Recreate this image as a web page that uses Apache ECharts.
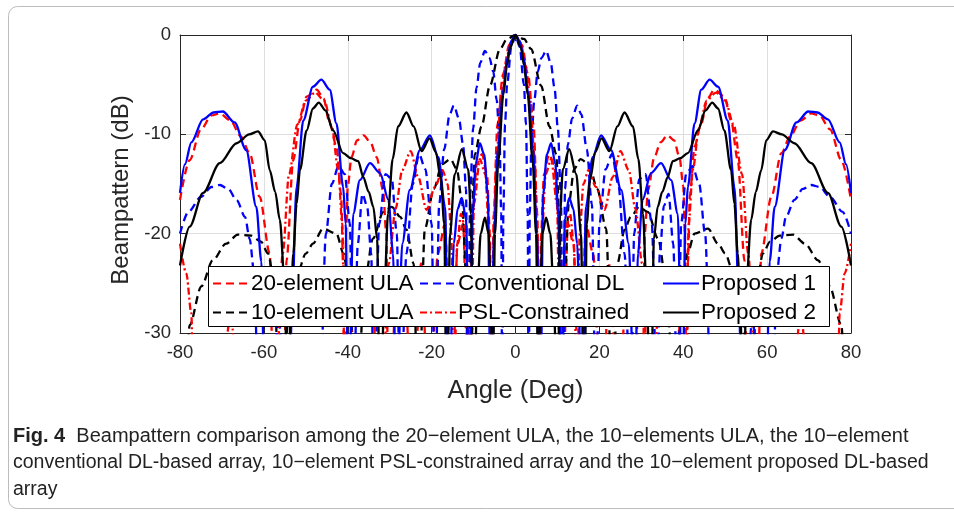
<!DOCTYPE html>
<html>
<head>
<meta charset="utf-8">
<script src="https://cdn.jsdelivr.net/npm/echarts@6/dist/echarts.min.js"></script>
<style>
html, body { margin: 0; padding: 0; background: #fff; }
#chart { width: 954px; height: 514px; }
</style>
</head>
<body>
<div id="chart"></div>
<script>
// 读图得到的数据: [角度(deg), 方向图(dB)]，-40 表示落到图外的零陷
const ula20 = [
    [-80,-16.6],[-77.7,-12.6],[-75,-9.5],[-72.5,-8.1],[-70.5,-7.9],[-68,-8.6],[-65.5,-10.2],[-63.4,-11.9],[-61,-16.3],[-58.6,-22],[-57.6,-40],
    [-55.3,-40],[-54.6,-22.7],[-53,-12.6],[-51.4,-8.6],[-49.8,-6.2],[-47.4,-5.5],[-45.8,-6.4],[-44.3,-8.9],[-42.7,-11.2],[-41.6,-16],[-41.1,-23],[-40.8,-40],
    [-40.4,-20],[-40,-15.2],[-39.1,-12.3],[-37.8,-10.6],[-36.2,-10.1],[-34.6,-10.8],[-33.1,-12.3],[-31.6,-15.6],[-30.8,-20],[-30.3,-40],
    [-28.5,-27],[-26.5,-24.5],[-24.5,-40],[-22.5,-23],[-20.5,-40],[-18.5,-22],[-16.8,-19],[-15.3,-40],[-13.8,-21],[-12.5,-19],[-11.2,-40],
    [-10.2,-18],[-9.2,-13],[-8,-12],[-6.8,-14],[-6.1,-20],[-5.7,-40],[-5.2,-18],[-4.3,-9],[-3,-4],[-1.5,-1],[0,0],
    [1.5,-1],[3,-4],[4.3,-9],[5.2,-18],[5.7,-40],[6.1,-20],[6.8,-14],[8,-12],[9.2,-13],[10.2,-18],
    [11.2,-40],[12.5,-19],[13.8,-21],[15.3,-40],[16.8,-19],[18.5,-22],[20.5,-40],[22.5,-23],[24.5,-40],[26.5,-24.5],[28.5,-27],
    [30.3,-40],[30.8,-20],[31.6,-15.6],[33.1,-12.3],[34.6,-10.8],[36.2,-10.1],[37.8,-10.6],[39.1,-12.3],[40,-15.2],[40.4,-20],
    [40.8,-40],[41.1,-23],[41.6,-16],[42.7,-11.2],[44.3,-8.9],[45.8,-6.4],[47.4,-5.5],[49.8,-6.2],[51.4,-8.6],[53,-12.6],[54.6,-22.7],[55.3,-40],
    [57.6,-40],[58.6,-22],[61,-16.3],[63.4,-11.9],[65.5,-10.2],[68,-8.6],[70.5,-7.9],[72.5,-8.1],[75,-9.5],[77.7,-12.6],[80,-16.6]
];

const ula10 = [
    [-80,-40],[-78.4,-33],[-77.7,-29.2],[-74.9,-25.3],[-72.2,-22.7],[-69,-21],[-66.2,-20.1],[-63,-20.2],[-60.7,-20.8],[-59,-22],[-57.5,-25],[-56.2,-40],
    [-54,-28],[-52,-24],[-50,-22],[-48.3,-21],[-45.9,-19.5],[-42.7,-20],[-41,-22],[-39.5,-26],[-38,-40],
    [-36,-25],[-34,-20.5],[-31.5,-17.8],[-29.5,-17.3],[-27.5,-18.3],[-26,-19.6],[-24.3,-23],[-23.2,-40],
    [-21.6,-19.5],[-19.5,-15.5],[-17.5,-13],[-15.5,-12.5],[-14,-13.5],[-12.7,-17],[-11.8,-24],[-11.2,-40],
    [-10.5,-19],[-9.7,-12],[-8.1,-9.2],[-6.1,-5.1],[-3.7,-1.4],[-2,-0.4],[0,0],
    [2,-0.4],[3.7,-1.4],[6.1,-5.1],[8.1,-9.2],[9.7,-12],[10.5,-19],
    [11.2,-40],[11.8,-24],[12.7,-17],[14,-13.5],[15.5,-12.5],[17.5,-13],[19.5,-15.5],[21.6,-19.5],
    [23.2,-40],[24.3,-23],[26,-19.6],[27.5,-18.3],[29.5,-17.3],[31.5,-17.8],[34,-20.5],[36,-25],
    [38,-40],[39.5,-26],[41,-22],[42.7,-20],[45.9,-19.5],[48.3,-21],[50,-22],[52,-24],[54,-28],
    [56.2,-40],[57.5,-25],[59,-22],[60.7,-20.8],[63,-20.2],[66.2,-20.1],[69,-21],[72.2,-22.7],[74.9,-25.3],[77.7,-29.2],[78.4,-33],[80,-40]
];

const conventionalDL = [
    [-80,-20],[-78,-17.8],[-75,-16.3],[-72.5,-15.3],[-70.5,-15.1],[-68.5,-15.5],[-66.5,-16.6],[-64.5,-18.3],[-63.4,-20.5],[-62.3,-24],[-61.2,-40],
    [-58.5,-40],[-56.5,-28.5],[-54.5,-40],[-46.8,-40],
    [-45.2,-20],[-43.8,-15],[-42.2,-13.2],[-40.7,-14],[-39.5,-19],[-38.7,-40],
    [-37.6,-21],[-36.5,-16],[-35.4,-17.2],[-34.4,-22],[-33.8,-40],
    [-32.5,-19],[-31,-14],[-29.5,-14.5],[-28.3,-20],[-27.5,-40],
    [-26,-22],[-24.5,-15],[-23,-12],[-21.5,-13.5],[-20,-19],[-19.2,-40],
    [-18.2,-17],[-17,-11.5],[-15.7,-8],[-14.7,-7.1],[-13.5,-8.4],[-12.5,-11],[-11.8,-15.5],[-11.4,-40],
    [-10.8,-16],[-10.1,-9.4],[-9.3,-5.3],[-8.4,-2.8],[-7.3,-1.6],[-6.2,-2.3],[-5.3,-3.7],[-4.5,-6.5],[-3.8,-10.5],[-3.4,-18],[-3.15,-40],
    [-2.9,-18],[-2.5,-9],[-2,-5],[-1,-1.2],[0,0],
    [1,-1.2],[2,-5],[2.5,-9],[2.9,-18],
    [3.15,-40],[3.4,-18],[3.8,-10.5],[4.5,-6.5],[5.3,-3.7],[6.2,-2.3],[7.3,-1.6],[8.4,-2.8],[9.3,-5.3],[10.1,-9.4],[10.8,-16],
    [11.4,-40],[11.8,-15.5],[12.5,-11],[13.5,-8.4],[14.7,-7.1],[15.7,-8],[17,-11.5],[18.2,-17],
    [19.2,-40],[20,-19],[21.5,-13.5],[23,-12],[24.5,-15],[26,-22],
    [27.5,-40],[28.3,-20],[29.5,-14.5],[31,-14],[32.5,-19],
    [33.8,-40],[34.4,-22],[35.4,-17.2],[36.5,-16],[37.6,-21],
    [38.7,-40],[39.5,-19],[40.7,-14],[42.2,-13.2],[43.8,-15],[45.2,-20],
    [46.8,-40],[54.5,-40],[56.5,-28.5],[58.5,-40],
    [61.2,-40],[62.3,-24],[63.4,-20.5],[64.5,-18.3],[66.5,-16.6],[68.5,-15.5],[70.5,-15.1],[72.5,-15.3],[75,-16.3],[78,-17.8],[80,-20]
];

const pslConstrained = [
    [-80,-21],[-78.5,-24],[-77.3,-28],[-76.7,-40],[-71,-40],[-68,-28.5],[-65,-40],[-57.5,-40],
    [-55.5,-22],[-54,-14],[-52,-9],[-50,-6.6],[-47.8,-5.8],[-45.6,-6.6],[-43.8,-9.2],[-42.3,-13.5],[-41.3,-19],[-40.6,-40],
    [-38.5,-27],[-36.5,-23.5],[-34.3,-27],[-32,-40],
    [-30.2,-23],[-28.6,-17.5],[-27,-13.6],[-25,-11.7],[-23.2,-14.3],[-21.2,-17.6],[-19.2,-15.3],[-17.4,-13.6],[-16.2,-15],[-15.3,-20],[-14.7,-40],
    [-13.9,-21],[-13,-18],[-12,-19.5],[-11.2,-25],[-10.7,-40],
    [-9.9,-17],[-8.5,-12.5],[-7.2,-14],[-6.3,-20],[-5.8,-40],
    [-5.2,-20],[-4.5,-12],[-3.5,-6.5],[-2.5,-3.2],[-1.2,-0.8],[0,0],
    [1.2,-0.8],[2.5,-3.2],[3.5,-6.5],[4.5,-12],[5.2,-20],
    [5.8,-40],[6.3,-20],[7.2,-14],[8.5,-12.5],[9.9,-17],
    [10.7,-40],[11.2,-25],[12,-19.5],[13,-18],[13.9,-21],
    [14.7,-40],[15.3,-20],[16.2,-15],[17.4,-13.6],[19.2,-15.3],[21.2,-17.6],[23.2,-14.3],[25,-11.7],[27,-13.6],[28.6,-17.5],[30.2,-23],
    [32,-40],[34.3,-27],[36.5,-23.5],[38.5,-27],
    [40.6,-40],[41.3,-19],[42.3,-13.5],[43.8,-9.2],[45.6,-6.6],[47.8,-5.8],[50,-6.6],[52,-9],[54,-14],[55.5,-22],
    [57.5,-40],[65,-40],[68,-28.5],[71,-40],[76.7,-40],[77.3,-28],[78.5,-24],[80,-21]
];

const proposed1 = [
    [-80,-15.9],[-78.8,-13],[-77.3,-10.8],[-74.5,-8.5],[-72,-7.8],[-69.8,-7.7],[-67,-8.8],[-64.2,-11.6],[-61.8,-17.3],[-60.6,-22.8],[-59.7,-40],
    [-54,-40],[-53.4,-28.7],[-52.2,-15.3],[-50.6,-8.6],[-48.3,-5.2],[-46.3,-4.5],[-44.3,-5.5],[-42.7,-8.9],[-41.1,-15.3],[-40.5,-19],[-39.8,-40],
    [-38.7,-18],[-37.1,-14.6],[-34.7,-12.9],[-32.3,-13.9],[-30.3,-16.6],[-29.2,-22],[-28.4,-40],
    [-27,-21],[-25.2,-15.6],[-22.8,-11.6],[-20.4,-10.1],[-18.4,-12.3],[-16.8,-17.3],[-15.9,-40],
    [-14.7,-21],[-13.8,-17.5],[-12.8,-16.4],[-11.8,-18.5],[-11,-40],
    [-10.2,-18],[-9.5,-13],[-8.5,-10.9],[-7.5,-12],[-6.6,-16],[-5.9,-40],
    [-5.1,-20],[-4.2,-11.5],[-3,-5.8],[-2,-2.4],[-1,-0.6],[0,0],
    [1,-0.6],[2,-2.4],[3,-5.8],[4.2,-11.5],[5.1,-20],
    [5.9,-40],[6.6,-16],[7.5,-12],[8.5,-10.9],[9.5,-13],[10.2,-18],
    [11,-40],[11.8,-18.5],[12.8,-16.4],[13.8,-17.5],[14.7,-21],
    [15.9,-40],[16.8,-17.3],[18.4,-12.3],[20.4,-10.1],[22.8,-11.6],[25.2,-15.6],[27,-21],
    [28.4,-40],[29.2,-22],[30.3,-16.6],[32.3,-13.9],[34.7,-12.9],[37.1,-14.6],[38.7,-18],
    [39.8,-40],[40.5,-19],[41.1,-15.3],[42.7,-8.9],[44.3,-5.5],[46.3,-4.5],[48.3,-5.2],[50.6,-8.6],[52.2,-15.3],[53.4,-28.7],[54,-40],
    [59.7,-40],[60.6,-22.8],[61.8,-17.3],[64.2,-11.6],[67,-8.8],[69.8,-7.7],[72,-7.8],[74.5,-8.5],[77.3,-10.8],[78.8,-13],[80,-15.9]
];

const proposed2 = [
    [-80,-23.2],[-77.7,-19.3],[-74.5,-15.9],[-70.5,-12.9],[-66.5,-10.9],[-63.5,-10],[-61.4,-9.7],[-59.8,-10.6],[-58.6,-13.6],[-57.3,-15.8],[-56.2,-18.6],[-55,-25.3],[-54.4,-40],
    [-53.6,-28],[-53,-22],[-52.2,-17],[-51.4,-13.6],[-49.8,-9.6],[-48.3,-7.4],[-46.9,-6.8],[-45.3,-7.6],[-43.5,-9.6],[-41.1,-11.9],[-39.3,-12.4],[-37.5,-12.7],[-36.3,-14.3],[-35,-15.8],[-33.9,-17.3],[-33,-20.5],[-32.3,-40],
    [-31.2,-25],[-30.4,-18],[-29.3,-12.5],[-28,-9.2],[-26,-7.8],[-24.3,-9.2],[-22.4,-11.7],[-20.5,-10.4],[-19,-11.8],[-17.8,-14.5],[-17,-19],[-16.4,-40],
    [-15.6,-20],[-14.5,-14],[-12.8,-11.5],[-11.3,-13.5],[-10.6,-18],[-10.1,-40],
    [-9,-25],[-8.3,-20],[-7.3,-18.4],[-6.4,-20],[-5.9,-26],[-5.5,-40],
    [-4.9,-20],[-4.1,-12.7],[-2.9,-6],[-2,-3],[-1.3,-1.3],[0,0],
    [1.3,-1.3],[2,-3],[2.9,-6],[4.1,-12.7],[4.9,-20],
    [5.5,-40],[5.9,-26],[6.4,-20],[7.3,-18.4],[8.3,-20],[9,-25],
    [10.1,-40],[10.6,-18],[11.3,-13.5],[12.8,-11.5],[14.5,-14],[15.6,-20],
    [16.4,-40],[17,-19],[17.8,-14.5],[19,-11.8],[20.5,-10.4],[22.4,-11.7],[24.3,-9.2],[26,-7.8],[28,-9.2],[29.3,-12.5],[30.4,-18],[31.2,-25],
    [32.3,-40],[33,-20.5],[33.9,-17.3],[35,-15.8],[36.3,-14.3],[37.5,-12.7],[39.3,-12.4],[41.1,-11.9],[43.5,-9.6],[45.3,-7.6],[46.9,-6.8],[48.3,-7.4],[49.8,-9.6],[51.4,-13.6],[52.2,-17],[53,-22],[53.6,-28],
    [54.4,-40],[55,-25.3],[56.2,-18.6],[57.3,-15.8],[58.6,-13.6],[59.8,-10.6],[61.4,-9.7],[63.5,-10],[66.5,-10.9],[70.5,-12.9],[74.5,-15.9],[77.7,-19.3],[80,-23.2]
];

const seriesNames = ['20-element ULA', '10-element ULA', 'Conventional DL', 'PSL-Constrained', 'Proposed 1', 'Proposed 2'];
const angleRange = [-80, 80];
const dbRange = [-30, 0];

const captionLines = [
    'Beampattern comparison among the 20\u2212element ULA, the 10\u2212elements ULA, the 10\u2212element',
    'conventional DL-based array, 10\u2212element PSL-constrained array and the 10\u2212element proposed DL-based',
    'array'
];

const RED = '#ff0000';
const BLUE = '#0000ff';
const BLACK = '#000000';
const axisColor = '#262626';
const fontMain = 'Liberation Sans, Arial, sans-serif';
const fontCaption = 'Liberation Sans, Arial, sans-serif';

function makeLine(name, data, color, type) {
    return {
        name: name,
        type: 'line',
        data: data,
        xAxisIndex: 0,
        yAxisIndex: 0,
        symbol: 'none',
        smooth: 0.3,
        smoothMonotone: 'x',
        clip: true,
        animation: false,
        lineStyle: { color: color, width: 2.3, type: type },
        itemStyle: { color: color }
    };
}

// 图例放到上一层画布，才能盖住曲线
let legendCommon = {
    orient: 'vertical',
    top: 272,
    zlevel: 1,
    z: 10,
    itemWidth: 36,
    itemHeight: 10,
    itemGap: 6,
    selectedMode: false,
    padding: 0,
    itemStyle: { opacity: 0 },
    textStyle: { fontSize: 22.5, color: '#000', fontFamily: fontMain, padding: [0, 0, 0, -3] }
};

let axisBase = {
    type: 'value',
    axisLine: { show: true, onZero: false, lineStyle: { color: axisColor, width: 1 } },
    axisTick: { show: true, inside: true, length: 6, lineStyle: { color: axisColor } }
};

let option = {
    backgroundColor: '#fff',
    animation: false,
    grid: { left: 180, top: 35, width: 671, height: 298, containLabel: false },
    legend: [
        Object.assign({}, legendCommon, { left: 212, data: [seriesNames[0], seriesNames[1]] }),
        Object.assign({}, legendCommon, { left: 419, data: [seriesNames[2], seriesNames[3]] }),
        Object.assign({}, legendCommon, { left: 662, data: [seriesNames[4], seriesNames[5]] })
    ],
    xAxis: [
        Object.assign({}, axisBase, {
            position: 'bottom',
            min: angleRange[0], max: angleRange[1], interval: 20,
            name: 'Angle (Deg)', nameLocation: 'middle', nameGap: 45,
            nameTextStyle: { fontSize: 25.5, color: axisColor, fontFamily: fontMain },
            axisLabel: { fontSize: 18.5, color: axisColor, margin: 10, fontFamily: fontMain },
            splitLine: { show: true, lineStyle: { color: '#dedede', width: 1 } }
        }),
        Object.assign({}, axisBase, {
            position: 'top',
            min: angleRange[0], max: angleRange[1], interval: 20,
            axisLabel: { show: false },
            splitLine: { show: false }
        })
    ],
    yAxis: [
        Object.assign({}, axisBase, {
            position: 'left',
            min: dbRange[0], max: dbRange[1], interval: 10,
            name: 'Beampattern (dB)', nameLocation: 'middle', nameGap: 44,
            nameTextStyle: { fontSize: 24, color: axisColor, fontFamily: fontMain, padding: [0, 12, 0, 0] },
            axisLabel: { fontSize: 18.5, color: axisColor, margin: 9, fontFamily: fontMain },
            splitLine: { show: true, lineStyle: { color: '#dedede', width: 1 } }
        }),
        Object.assign({}, axisBase, {
            position: 'right',
            min: dbRange[0], max: dbRange[1], interval: 10,
            axisLabel: { show: false },
            splitLine: { show: false }
        })
    ],
    graphic: [
        {
            type: 'rect', left: 6, top: 4, z: 0,
            shape: { width: 980, height: 502, r: 9 },
            style: { fill: 'none', stroke: '#bcbcbc', lineWidth: 1 }
        },
        {
            // 图例外框
            type: 'rect', left: 208, top: 266, zlevel: 1, z: 1,
            shape: { width: 621, height: 60 },
            style: { fill: '#fff', stroke: '#000', lineWidth: 1 }
        },
        {
            type: 'text', left: 13, top: 426, z: 5,
            style: {
                text: '{b|Fig. 4}  ' + captionLines[0],
                fontSize: 20, fontFamily: fontCaption, fill: '#222',
                rich: { b: { fontWeight: 'bold', fontSize: 20, fontFamily: fontCaption, fill: '#222' } }
            }
        },
        {
            type: 'text', left: 13, top: 453, z: 5,
            style: { text: captionLines[1], fontSize: 19.5, fontFamily: fontCaption, fill: '#222' }
        },
        {
            type: 'text', left: 13, top: 480, z: 5,
            style: { text: captionLines[2], fontSize: 19.5, fontFamily: fontCaption, fill: '#222' }
        }
    ],
    series: [
        makeLine(seriesNames[0], ula20, RED, [8, 5]),
        makeLine(seriesNames[1], ula10, BLACK, [8, 5]),
        makeLine(seriesNames[2], conventionalDL, BLUE, [8, 5]),
        makeLine(seriesNames[3], pslConstrained, RED, [7, 3, 2, 3]),
        makeLine(seriesNames[4], proposed1, BLUE, 'solid'),
        makeLine(seriesNames[5], proposed2, BLACK, 'solid')
    ]
};

let chart = echarts.init(document.getElementById('chart'), null, { renderer: 'canvas' });
chart.setOption(option);
</script>
</body>
</html>
